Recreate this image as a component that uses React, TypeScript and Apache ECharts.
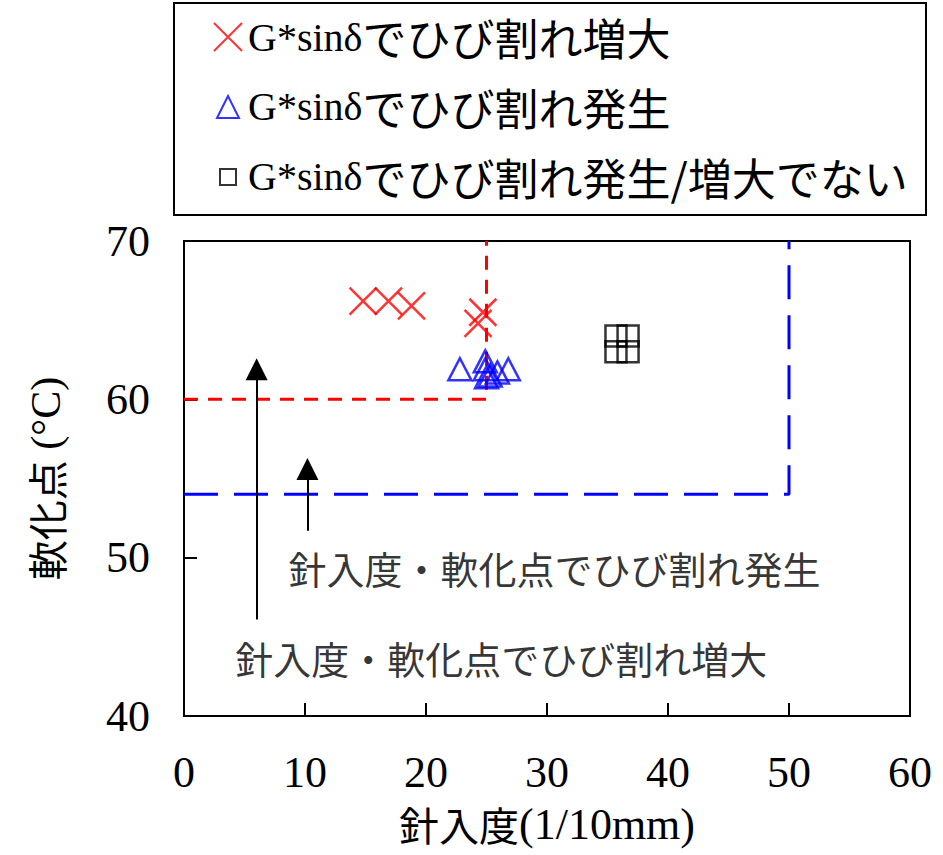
import React, { useEffect, useRef } from "react";
import * as echarts from "echarts";

// Penetration (1/10mm) vs softening point (°C)
const crackGrowth: [number, number][] = [
  [14.8, 66.2],
  [16.9, 66.2],
  [18.8, 65.9],
  [24.7, 65.5],
  [24.3, 64.8],
];
const crackOnset: [number, number][] = [
  [22.8, 61.9],
  [24.9, 62.4],
  [24.9, 61.9],
  [25.9, 61.7],
  [26.8, 61.9],
  [25.3, 61.5],
  [25.0, 61.4],
];
const noCrack: [number, number][] = [
  [35.7, 64.0],
  [36.7, 64.0],
  [35.7, 63.0],
  [36.7, 63.0],
];

// Threshold boundaries (penetration / softening point criteria)
const growthBoundary: [number, number][] = [
  [0, 60],
  [25, 60],
  [25, 70],
];
const onsetBoundary: [number, number][] = [
  [0, 54],
  [50, 54],
  [50, 70],
];

// Arrows: [x, yStart, yEnd]
const growthArrow: [number, number, number] = [6, 46.1, 61.9];
const onsetArrow: [number, number, number] = [10.2, 51.7, 55.6];

const seriesNames = [
  "G*sinδでひび割れ増大",
  "G*sinδでひび割れ発生",
  "G*sinδでひび割れ発生/増大でない",
];
const noteOnset = "針入度・軟化点でひび割れ発生";
const noteGrowth = "針入度・軟化点でひび割れ増大";
const noteOnsetPos: [number, number] = [8.6, 49.4];
const noteGrowthPos: [number, number] = [4.2, 43.7];

const xTicks = { min: 0, max: 60, interval: 10 };
const yTicks = { min: 40, max: 70, interval: 10 };

const SERIF = "'Liberation Serif', 'Times New Roman', serif";
const GOTHIC = "'Noto Sans CJK JP', 'Noto Sans', sans-serif";

const crossPath = "path://M0,0L10,10M10,0L0,10";

export default function App() {
  const ref = useRef<HTMLDivElement>(null);

  useEffect(() => {
    if (!ref.current) return;
    const chart = echarts.init(ref.current, undefined, { renderer: "svg" });

    const arrowSeries = (a: [number, number, number]) => ({
      type: "lines" as const,
      coordinateSystem: "cartesian2d",
      silent: true,
      symbol: ["none", "triangle"],
      symbolSize: [22, 22],
      lineStyle: { color: "#000", width: 2, opacity: 1 },
      itemStyle: { color: "#000" },
      data: [
        {
          coords: [
            [a[0], a[1]],
            [a[0], a[2]],
          ],
        },
      ],
      z: 3,
    });

    const noteSeries = (pos: [number, number], text: string) => ({
      type: "scatter" as const,
      silent: true,
      symbolSize: 1,
      itemStyle: { color: "transparent" },
      label: {
        show: true,
        position: "right",
        distance: 0,
        formatter: () => text,
        fontFamily: GOTHIC,
        fontSize: 38,
        color: "#000",
      },
      data: [pos],
      z: 3,
    });

    chart.setOption({
      animation: false,
      backgroundColor: "#fff",
      grid: {
        left: 184,
        top: 241,
        width: 726,
        height: 475,
        show: true,
        borderColor: "#000",
        borderWidth: 2,
        backgroundColor: "transparent",
      },
      xAxis: {
        type: "value",
        ...xTicks,
        splitLine: { show: false },
        axisLine: { lineStyle: { color: "#000", width: 2 } },
        axisTick: { inside: true, length: 13, lineStyle: { color: "#000", width: 2 } },
        axisLabel: {
          fontFamily: SERIF,
          fontSize: 44,
          color: "#000",
          margin: 34,
        },
        name: "{a|針入度}{b|(1/10mm)}",
        nameLocation: "middle",
        nameGap: 88,
        nameTextStyle: {
          rich: {
            a: { fontFamily: GOTHIC, fontSize: 40, color: "#000", lineHeight: 40 },
            b: { fontFamily: SERIF, fontSize: 44, color: "#000", lineHeight: 40 },
          },
        },
      },
      yAxis: {
        type: "value",
        ...yTicks,
        splitLine: { show: false },
        axisLine: { lineStyle: { color: "#000", width: 2 } },
        axisTick: { inside: true, length: 13, lineStyle: { color: "#000", width: 2 } },
        axisLabel: {
          fontFamily: SERIF,
          fontSize: 44,
          color: "#000",
          margin: 34,
        },
        name: "{a|軟化点}{b| (°C)}",
        nameLocation: "middle",
        nameGap: 117,
        nameTextStyle: {
          rich: {
            a: { fontFamily: GOTHIC, fontSize: 40, color: "#000" },
            b: { fontFamily: SERIF, fontSize: 42, color: "#000" },
          },
        },
      },
      legend: {
        orient: "vertical",
        left: 207,
        top: 10,
        itemWidth: 30,
        itemHeight: 30,
        itemGap: 26,
        selectedMode: false,
        data: [
          {
            name: seriesNames[0],
            icon: "path://M0,0M30,30M1,1L29,29M29,1L1,29",
            itemStyle: { color: "transparent", borderColor: "#ff0000", borderWidth: 2 },
          },
          {
            name: seriesNames[1],
            icon: "path://M0,0M30,30M4,26L15,4L26,26Z",
            itemStyle: { color: "transparent", borderColor: "#0000ff", borderWidth: 2 },
          },
          {
            name: seriesNames[2],
            icon: "path://M0,0M30,30M7,7H23V23H7Z",
            itemStyle: { color: "transparent", borderColor: "#000", borderWidth: 2 },
          },
        ],
        formatter: (name: string) =>
          `{a|${name.slice(0, 6)}}{b|${name.slice(6)}}`,
        textStyle: {
          rich: {
            a: { fontFamily: SERIF, fontSize: 40, color: "#000", lineHeight: 40 },
            b: { fontFamily: GOTHIC, fontSize: 44, color: "#000", lineHeight: 40 },
          },
        },
      },
      graphic: [
        {
          type: "rect",
          left: 173,
          top: 2,
          shape: { width: 752, height: 212 },
          style: { fill: "transparent", stroke: "#000", lineWidth: 2 },
          silent: true,
        },
      ],
      series: [
        {
          type: "line",
          name: "boundary-growth",
          data: growthBoundary,
          symbol: "none",
          silent: true,
          lineStyle: { color: "#ff0000", width: 3, type: [14, 10] },
          z: 1,
        },
        {
          type: "line",
          name: "boundary-onset",
          data: onsetBoundary,
          symbol: "none",
          silent: true,
          lineStyle: { color: "#0000ff", width: 3, type: [34, 16] },
          z: 1,
        },
        arrowSeries(growthArrow),
        arrowSeries(onsetArrow),
        noteSeries(noteOnsetPos, noteOnset),
        noteSeries(noteGrowthPos, noteGrowth),
        {
          type: "scatter",
          name: seriesNames[0],
          data: crackGrowth,
          symbol: crossPath,
          symbolSize: 27,
          itemStyle: { color: "transparent", borderColor: "#ff0000", borderWidth: 2.5 },
          z: 4,
        },
        {
          type: "scatter",
          name: seriesNames[1],
          data: crackOnset,
          symbol: "triangle",
          symbolSize: [23, 22],
          itemStyle: { color: "transparent", borderColor: "#0000ff", borderWidth: 2.5 },
          z: 4,
        },
        {
          type: "scatter",
          name: seriesNames[2],
          data: noCrack,
          symbol: "rect",
          symbolSize: 21,
          itemStyle: { color: "transparent", borderColor: "#000", borderWidth: 2.5 },
          z: 4,
        },
      ],
    });

    return () => chart.dispose();
  }, []);

  return (
    <div
      ref={ref}
      style={{ position: "absolute", left: 0, top: 0, width: 943, height: 855 }}
    />
  );
}
